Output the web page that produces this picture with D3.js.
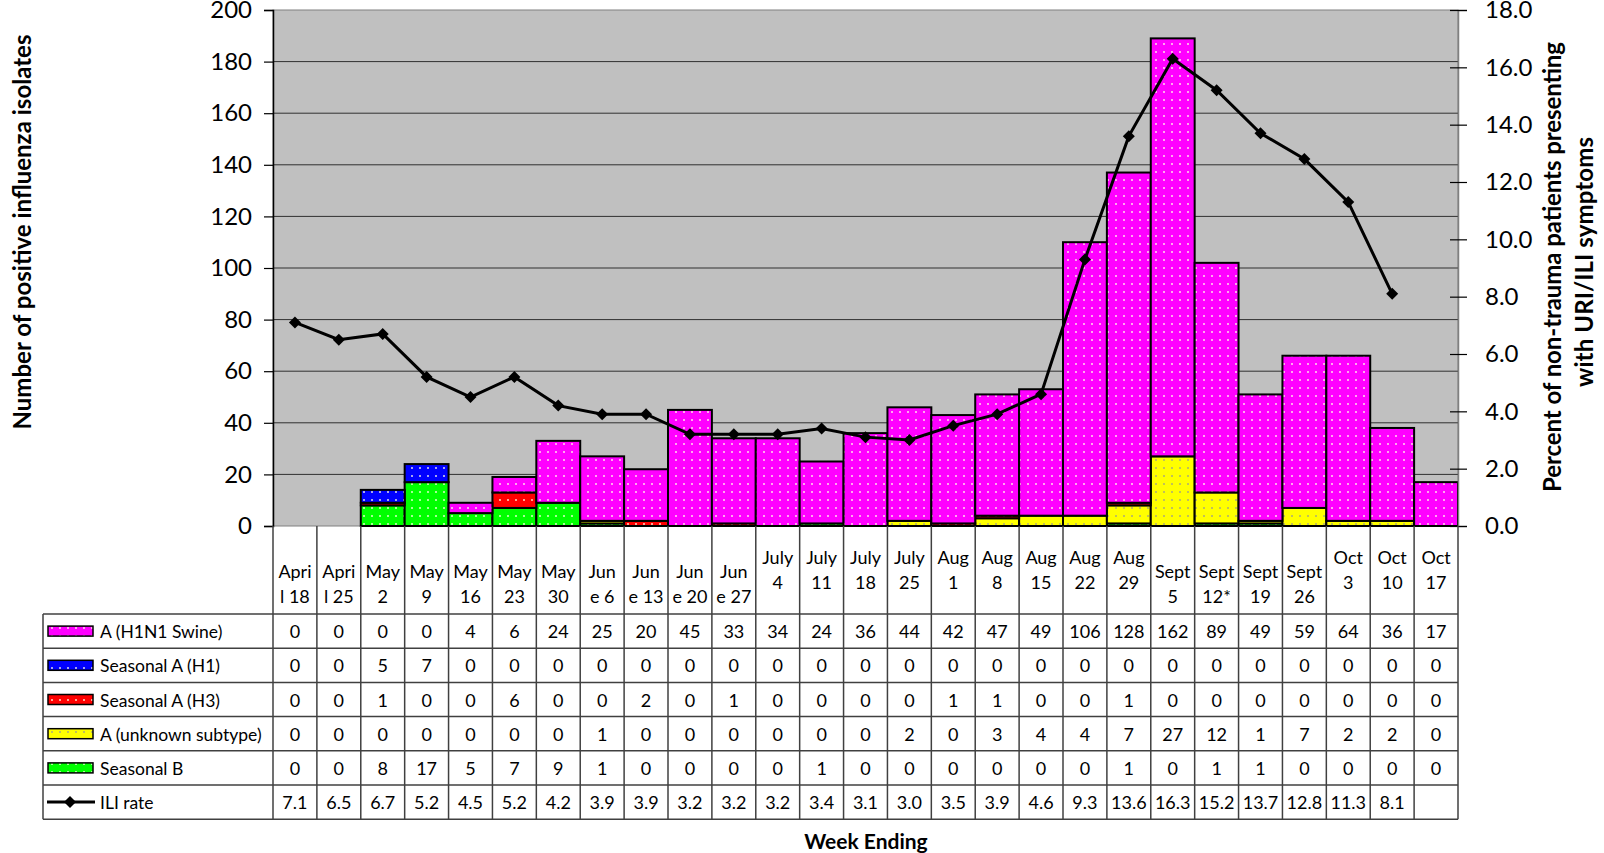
<!DOCTYPE html>
<html><head><meta charset="utf-8">
<script src="https://cdn.jsdelivr.net/npm/d3@7"></script>
<style>body{margin:0;background:#fff}svg{display:block}text{font-family:Lato,"Open Sans",sans-serif;fill:#000}</style>
</head><body>
<svg id="c" width="1604" height="853"></svg>
<script>
const categories = ["April 18","April 25","May 2","May 9","May 16","May 23","May 30","June 6","June 13","June 20","June 27","July 4","July 11","July 18","July 25","Aug 1","Aug 8","Aug 15","Aug 22","Aug 29","Sept 5","Sept 12*","Sept 19","Sept 26","Oct 3","Oct 10","Oct 17"];
const catLabels = [["Apri","l 18"],["Apri","l 25"],["May","2"],["May","9"],["May","16"],["May","23"],["May","30"],["Jun","e 6"],["Jun","e 13"],["Jun","e 20"],["Jun","e 27"],["July","4"],["July","11"],["July","18"],["July","25"],["Aug","1"],["Aug","8"],["Aug","15"],["Aug","22"],["Aug","29"],["Sept","5"],["Sept","12*"],["Sept","19"],["Sept","26"],["Oct","3"],["Oct","10"],["Oct","17"]];
const h1n1 =    [0,0,0,0,4,6,24,25,20,45,33,34,24,36,44,42,47,49,106,128,162,89,49,59,64,36,17];
const seasH1 =  [0,0,5,7,0,0,0,0,0,0,0,0,0,0,0,0,0,0,0,0,0,0,0,0,0,0,0];
const seasH3 =  [0,0,1,0,0,6,0,0,2,0,1,0,0,0,0,1,1,0,0,1,0,0,0,0,0,0,0];
const unknownA =[0,0,0,0,0,0,0,1,0,0,0,0,0,0,2,0,3,4,4,7,27,12,1,7,2,2,0];
const seasB =   [0,0,8,17,5,7,9,1,0,0,0,0,1,0,0,0,0,0,0,1,0,1,1,0,0,0,0];
const iliRate = [7.1,6.5,6.7,5.2,4.5,5.2,4.2,3.9,3.9,3.2,3.2,3.2,3.4,3.1,3.0,3.5,3.9,4.6,9.3,13.6,16.3,15.2,13.7,12.8,11.3,8.1,null];
const leftTicks = [0,20,40,60,80,100,120,140,160,180,200];
const rightTicks = [0,2,4,6,8,10,12,14,16,18];

const series = [
  {key:"B", name:"Seasonal B", values:seasB, color:"#00FF00"},
  {key:"U", name:"A (unknown subtype)", values:unknownA, color:"#FFFF00"},
  {key:"H3", name:"Seasonal A (H3)", values:seasH3, color:"#FF0000"},
  {key:"H1", name:"Seasonal A (H1)", values:seasH1, color:"#0000FF"},
  {key:"S", name:"A (H1N1 Swine)", values:h1n1, color:"#FF00FF"}
];
const tableOrder = ["S","H1","H3","U","B"];

const svg = d3.select("#c");
const L=273, R=1458, T=10, B=526;
const x = d3.scaleBand().domain(categories).range([L,R]).padding(0);
const y = d3.scaleLinear().domain([0,200]).range([B,T]);
const yR = d3.scaleLinear().domain([0,18]).range([B,T]);

// patterns
const defs = svg.append("defs");
series.forEach(s=>{
  const p = defs.append("pattern").attr("id","p"+s.key).attr("patternUnits","userSpaceOnUse")
    .attr("width",8).attr("height",8);
  p.append("rect").attr("width",8).attr("height",8).attr("fill",s.color);
  p.append("rect").attr("x",3).attr("y",3).attr("width",2).attr("height",2)
    .attr("fill", s.key==="U" ? "rgba(150,150,150,0.6)" : "rgba(255,255,230,0.65)");
});

// plot background
svg.append("rect").attr("x",L).attr("y",T).attr("width",R-L).attr("height",B-T)
  .attr("fill","#C0C0C0").attr("stroke","#808080").attr("stroke-width",1);
// gridlines
svg.append("g").selectAll("line").data(leftTicks.filter(d=>d>0&&d<200)).join("line")
  .attr("x1",L).attr("x2",R).attr("y1",d=>y(d)).attr("y2",d=>y(d))
  .attr("stroke","#303030").attr("stroke-width",1);

// stacked bars
const table = categories.map((c,i)=>{const o={cat:c}; series.forEach(s=>o[s.key]=s.values[i]); return o;});
const stack = d3.stack().keys(series.map(s=>s.key))(table);
const gb = svg.append("g");
stack.forEach((layer,li)=>{
  gb.append("g").selectAll("rect").data(layer.filter(d=>d[1]-d[0]>0)).join("rect")
    .attr("x",d=>x(d.data.cat)).attr("width",x.bandwidth())
    .attr("y",d=>y(d[1])).attr("height",d=>y(d[0])-y(d[1]))
    .attr("fill","url(#p"+series[li].key+")").attr("stroke","#000").attr("stroke-width",2);
});

// left axis
const la = svg.append("g").attr("transform",`translate(${L},0)`)
  .call(d3.axisLeft(y).tickValues(leftTicks).tickSize(9).tickPadding(12).tickFormat(d3.format("d")));
la.select(".domain").attr("stroke","#000").attr("stroke-width",1.5);
la.selectAll(".tick line").attr("stroke","#000").attr("stroke-width",1.2);
la.selectAll("text").style("font-size","24px").style("font-family","Lato");
// right axis
const ra = svg.append("g").attr("transform",`translate(${R},0)`)
  .call(d3.axisRight(yR).tickValues(rightTicks).tickSize(9).tickPadding(18).tickFormat(d3.format(".1f")));
ra.select(".domain").attr("stroke","#808080").attr("stroke-width",1.5);
ra.selectAll(".tick line").attr("x1",-8).attr("stroke","#000").attr("stroke-width",1.2);
ra.selectAll("text").style("font-size","24px").style("font-family","Lato");

// ILI line
const line = d3.line().defined(d=>d!=null).x((d,i)=>x(categories[i])+x.bandwidth()/2).y(d=>yR(d));
svg.append("path").datum(iliRate).attr("d",line).attr("fill","none").attr("stroke","#000").attr("stroke-width",3);
svg.append("g").selectAll("path").data(iliRate.map((v,i)=>({v,i})).filter(d=>d.v!=null)).join("path")
  .attr("transform",d=>`translate(${x(categories[d.i])+x.bandwidth()/2},${yR(d.v)}) rotate(45)`)
  .attr("d",d3.symbol().type(d3.symbolSquare).size(72)()).attr("fill","#000");

// data table
const rowTop = 614, rowH = 34.2, nRows = 6, legL = 43;
const tb = svg.append("g");
const lineCol = "#404040";
const FS = "18px";
for(let r=0;r<=nRows;r++){
  tb.append("line").attr("x1",legL).attr("x2",R).attr("y1",rowTop+r*rowH).attr("y2",rowTop+r*rowH)
    .attr("stroke",lineCol).attr("stroke-width",1.5);
}
const vx = categories.map(c=>x(c)).concat([R]);
tb.selectAll("line.v").data(vx).join("line").attr("class","v")
  .attr("x1",d=>d).attr("x2",d=>d).attr("y1",B).attr("y2",rowTop+nRows*rowH)
  .attr("stroke",lineCol).attr("stroke-width",1.5);
tb.append("line").attr("x1",legL).attr("x2",legL).attr("y1",rowTop).attr("y2",rowTop+nRows*rowH)
  .attr("stroke",lineCol).attr("stroke-width",1.5);

// category labels
const highGroup = c => /^(July|Aug|Oct)/.test(c);
categories.forEach((c,i)=>{
  const cx = x(c)+x.bandwidth()/2;
  const base = highGroup(c) ? 564 : 578;
  catLabels[i].forEach((t,j)=>{
    tb.append("text").attr("x",cx).attr("y",base+j*25).attr("text-anchor","middle")
      .style("font-size",FS).text(t);
  });
});
const rows = tableOrder.map(k=>series.find(s=>s.key===k));
rows.forEach((s,r)=>{
  const cy = rowTop + r*rowH + rowH/2;
  tb.append("rect").attr("x",48).attr("y",cy-5).attr("width",45).attr("height",10)
    .attr("fill","url(#p"+s.key+")").attr("stroke","#000").attr("stroke-width",1.5);
  tb.append("text").attr("x",100).attr("y",cy+7).style("font-size","17.5px").text(s.name);
  s.values.forEach((v,i)=>{
    tb.append("text").attr("x",x(categories[i])+x.bandwidth()/2).attr("y",cy+7)
      .attr("text-anchor","middle").style("font-size",FS).text(v);
  });
});
{
  const cy = rowTop + 5*rowH + rowH/2;
  tb.append("line").attr("x1",47).attr("x2",95).attr("y1",cy).attr("y2",cy).attr("stroke","#000").attr("stroke-width",3);
  tb.append("path").attr("transform",`translate(70,${cy}) rotate(45)`)
    .attr("d",d3.symbol().type(d3.symbolSquare).size(72)()).attr("fill","#000");
  tb.append("text").attr("x",100).attr("y",cy+7).style("font-size","17.5px").text("ILI rate");
  iliRate.forEach((v,i)=>{
    if(v==null) return;
    tb.append("text").attr("x",x(categories[i])+x.bandwidth()/2).attr("y",cy+7)
      .attr("text-anchor","middle").style("font-size",FS).text(v.toFixed(1));
  });
}

// titles
svg.append("text").attr("transform","translate(31,232) rotate(-90)").attr("text-anchor","middle")
  .attr("textLength",395).attr("lengthAdjust","spacing")
  .style("font-size","24px").style("font-weight","bold").text("Number of positive influenza isolates");
svg.append("text").attr("transform","translate(1561,267) rotate(-90)").attr("text-anchor","middle")
  .attr("textLength",450).attr("lengthAdjust","spacing")
  .style("font-size","24px").style("font-weight","bold").text("Percent of non-trauma patients presenting");
svg.append("text").attr("transform","translate(1593,262) rotate(-90)").attr("text-anchor","middle")
  .attr("textLength",250).attr("lengthAdjust","spacing")
  .style("font-size","24px").style("font-weight","bold").text("with URI/ILI symptoms");
svg.append("text").attr("x",866).attr("y",849).attr("text-anchor","middle")
  .style("font-size","21px").style("font-weight","bold").text("Week Ending");
</script>
</body></html>
